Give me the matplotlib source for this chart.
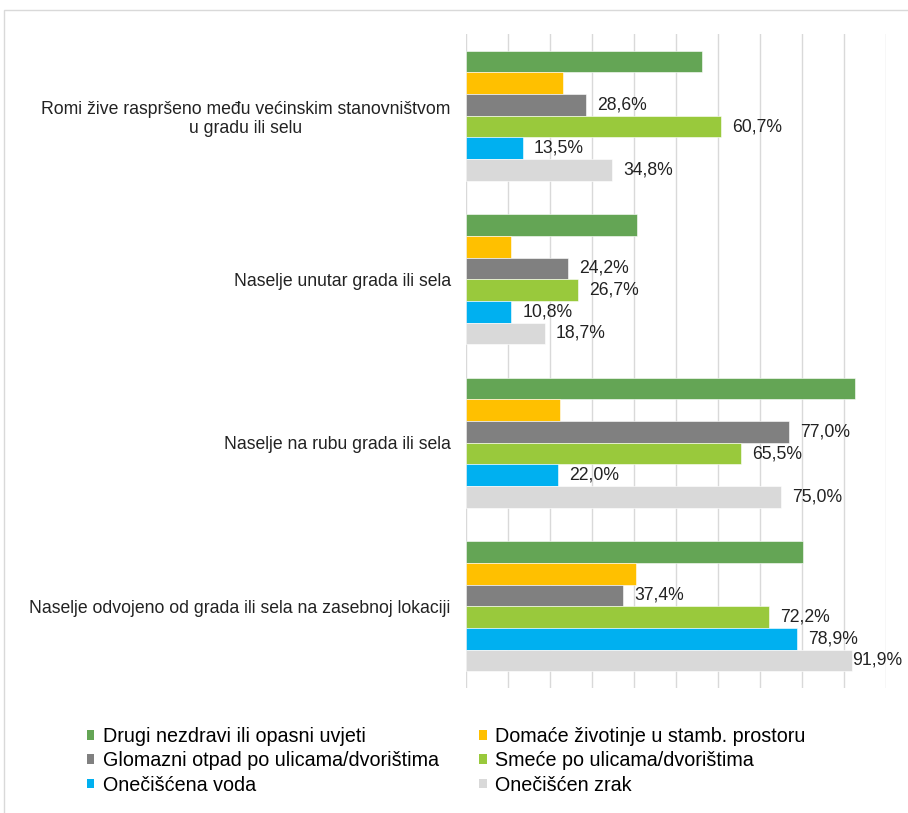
import matplotlib
matplotlib.use("Agg")
import matplotlib.pyplot as plt
from matplotlib.patches import Patch, Rectangle
import numpy as np

plt.rcParams['font.family'] = ['Liberation Sans', 'DejaVu Sans']

categories = [
    "Romi žive raspršeno među većinskim stanovništvom\nu gradu ili selu",
    "Naselje unutar grada ili sela",
    "Naselje na rubu grada ili sela",
    "Naselje odvojeno od grada ili sela na zasebnoj lokaciji",
]
series_names = [
    "Drugi nezdravi ili opasni uvjeti",
    "Domaće životinje u stamb. prostoru",
    "Glomazni otpad po ulicama/dvorištima",
    "Smeće po ulicama/dvorištima",
    "Onečišćena voda",
    "Onečišćen zrak",
]
drugi = [56.1, 40.6, 92.6, 80.3]
domace = [23.0, 10.8, 22.4, 40.4]
glomazni = [28.6, 24.2, 77.0, 37.4]
smece = [60.7, 26.7, 65.5, 72.2]
voda = [13.5, 10.8, 22.0, 78.9]
zrak = [34.8, 18.7, 75.0, 91.9]
values = [drugi, domace, glomazni, smece, voda, zrak]
show_labels = [False, False, True, True, True, True]
colors = ["#64A555", "#FFC000", "#808080", "#99C93C", "#00B0F0", "#D9D9D9"]

W, H = 908, 813
fig = plt.figure(figsize=(W / 100, H / 100), dpi=100)
ax = fig.add_axes([466 / W, 1 - 688 / H, 420 / W, 654 / H])

fs = 12.7
n = len(series_names)
h = 0.1327
y = np.arange(len(categories))
for i, (vals, col, name) in enumerate(zip(values, colors, series_names)):
    pos = y + (i - (n - 1) / 2) * h
    ax.barh(pos, vals, height=h, color=col, edgecolor='white', linewidth=0.4, label=name, zorder=3)
    if show_labels[i]:
        for p, v in zip(pos, vals):
            off = 0 if v > 90 else 8
            ax.annotate(f"{v:.1f}%".replace('.', ','), xy=(v, p), xytext=(off, 0),
                        textcoords='offset points', ha='left', va='center',
                        fontsize=fs, color='#222222', annotation_clip=False, zorder=4)

ax.set_xlim(0, 100)
ax.set_ylim(len(categories) - 0.5, -0.5)
ax.set_xticks(np.arange(0, 101, 10))
ax.xaxis.set_ticklabels([])
ax.tick_params(axis='x', length=0)
ax.grid(axis='x', color='#D9D9D9', linewidth=1.0, zorder=0)
ax.set_yticks(y)
ax.set_yticklabels(categories, fontsize=fs, color='#222222', multialignment='center')
ax.tick_params(axis='y', length=0, pad=11)
for s in ax.spines.values():
    s.set_visible(False)

# outer chart frame (cut off at right/bottom)
fig.patches.append(Rectangle((4 / W, -0.05), 1.1, 1 - 10 / H + 0.05, transform=fig.transFigure,
                             fill=False, edgecolor='#D9D9D9', linewidth=1.0))

handles = [Patch(facecolor=c, edgecolor='none') for c in colors]
order = [0, 2, 4, 1, 3, 5]  # row-major layout in a 2-column legend
fig.legend([handles[k] for k in order], [series_names[k] for k in order],
           loc='upper left', ncol=2, frameon=False,
           bbox_to_anchor=(87 / W, 1 - 727 / H), borderpad=0, borderaxespad=0,
           fontsize=14.2, handlelength=0.38, handleheight=0.38, handletextpad=0.42,
           labelspacing=0.27, columnspacing=2.05)

fig.savefig("out.png", dpi=100)
